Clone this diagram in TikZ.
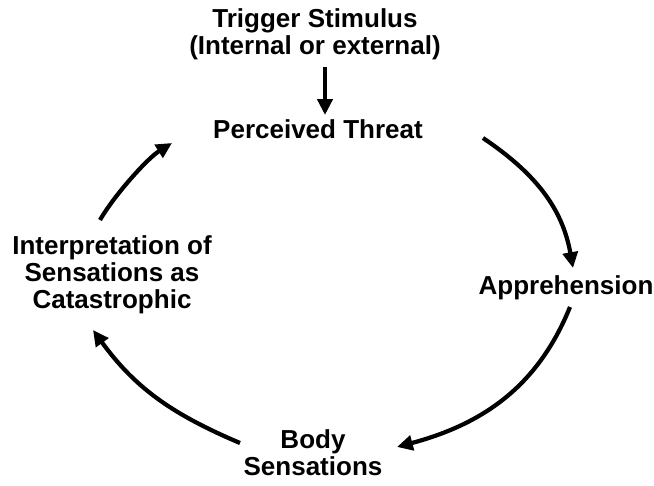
\documentclass[tikz,border=0pt]{standalone}
\usepackage{fontspec}
\setmainfont{Liberation Sans}
\usetikzlibrary{arrows.meta,positioning,calc}

\begin{document}
\begin{tikzpicture}[
    x=0.02cm, y=0.02cm,
    every node/.style={align=center},
    stage/.style={
        font=\fontsize{14.8}{15.5}\selectfont\bfseries, inner sep=0pt
    },
    loopArrow/.style={-{Triangle[length=9pt,width=8.5pt]}, line width=2.4pt}
]
\useasboundingbox (0,0) rectangle (654,485);

% stages of the cycle
\node[stage] (trigger) at (315,451) {Trigger Stimulus\\(Internal or external)};
\node[stage] (threat) at (318,356) {Perceived Threat};
\node[stage] (appr) at (566,197) {Apprehension};
\node[stage] (body) at (313,32) {Body\\Sensations};
\node[stage] (interp) at (112,210) {Interpretation of\\Sensations as\\Catastrophic};

% trigger into the cycle
\draw[loopArrow] ($(trigger)+(10,-33)$) -- ($(threat)+(7,14)$);

% the cycle
\draw[loopArrow] ($(threat)+(165,-9)$) to[out=-34, in=100] ($(appr)+(7,20)$);
\draw[loopArrow] ($(appr)+(4,-19)$) to[out=-112, in=15] ($(body)+(84,6)$);
\draw[loopArrow] ($(body)+(-73,10)$) to[out=157, in=-54] ($(interp)+(-19,-55)$);
\draw[loopArrow] ($(interp)+(-12,55)$) to[out=60, in=212, looseness=0.7] ($(threat)+(-146,-14)$);

\end{tikzpicture}
\end{document}
